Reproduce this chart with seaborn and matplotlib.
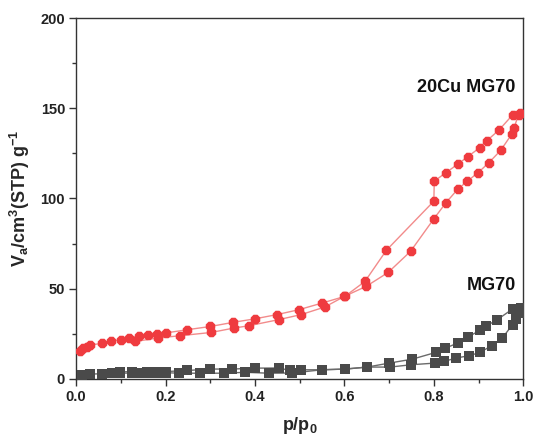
import numpy as np
import matplotlib
matplotlib.use("Agg")
import matplotlib.pyplot as plt
import seaborn as sns
from matplotlib.ticker import MultipleLocator

# 20Cu MG70 - adsorption branch
cu_ads_x = [0.009, 0.016, 0.024, 0.030, 0.058, 0.078, 0.100, 0.132, 0.182, 0.233, 0.302, 0.352,
            0.386, 0.453, 0.503, 0.556, 0.600, 0.649, 0.698, 0.748, 0.800, 0.827, 0.853, 0.875,
            0.899, 0.923, 0.950, 0.974, 0.979, 0.990]
cu_ads_y = [15.2, 17.0, 17.9, 18.5, 19.8, 20.7, 21.7, 20.7, 22.6, 23.9, 25.7, 28.1,
            29.4, 32.8, 35.6, 39.8, 45.7, 51.3, 59.0, 70.7, 88.7, 97.6, 105.0, 109.6,
            114.3, 119.8, 126.8, 135.6, 139.2, 146.5]
# 20Cu MG70 - desorption branch
cu_des_x = [0.993, 0.976, 0.946, 0.918, 0.903, 0.876, 0.853, 0.827, 0.801, 0.800, 0.694, 0.646,
            0.601, 0.550, 0.498, 0.449, 0.401, 0.351, 0.300, 0.248, 0.200, 0.181, 0.160, 0.140, 0.119]
cu_des_y = [147.6, 146.3, 138.0, 131.9, 128.2, 123.2, 118.9, 114.3, 109.6, 98.5, 71.3, 54.0,
            45.7, 42.0, 38.3, 35.6, 33.3, 31.3, 29.0, 27.2, 25.4, 24.8, 24.1, 23.5, 22.6]

# MG70 - adsorption branch
mg_ads_x = [0.013, 0.030, 0.058, 0.080, 0.099, 0.125, 0.143, 0.158, 0.181, 0.200, 0.229, 0.278,
            0.330, 0.378, 0.431, 0.483, 0.550, 0.602, 0.651, 0.702, 0.750, 0.802, 0.823, 0.849,
            0.879, 0.903, 0.929, 0.953, 0.976, 0.983, 0.990]
mg_ads_y = [2.2, 2.6, 2.8, 3.0, 3.1, 3.2, 3.2, 3.3, 3.4, 3.4, 3.1, 3.1,
            3.1, 3.6, 3.1, 3.2, 5.0, 5.4, 6.5, 6.5, 7.8, 8.7, 9.6, 11.5,
            12.8, 14.6, 18.3, 22.6, 30.0, 33.1, 36.5]
# MG70 - desorption branch
mg_des_x = [0.994, 0.976, 0.942, 0.916, 0.903, 0.876, 0.853, 0.826, 0.804, 0.752, 0.700, 0.651,
            0.602, 0.550, 0.502, 0.479, 0.453, 0.401, 0.349, 0.300, 0.248, 0.200, 0.181, 0.158,
            0.125, 0.099]
mg_des_y = [39.3, 38.7, 32.8, 29.1, 26.8, 23.2, 19.8, 17.0, 14.6, 10.9, 8.7, 6.5,
            5.4, 5.0, 5.0, 4.6, 6.0, 5.9, 5.4, 5.4, 4.6, 4.0, 4.0, 4.0,
            4.0, 3.8]

sns.set_style("ticks")
plt.rcParams['font.family'] = ['Liberation Sans', 'DejaVu Sans']
plt.rcParams['mathtext.fontset'] = 'custom'
plt.rcParams['mathtext.rm'] = 'Liberation Sans:bold'
plt.rcParams['mathtext.it'] = 'Liberation Sans:bold'
plt.rcParams['mathtext.bf'] = 'Liberation Sans:bold'

fig = plt.figure(figsize=(5.4, 4.42), dpi=100)
ax = fig.add_axes([0.141, 0.143, 0.828, 0.816])

red = '#ef3b3f'
red_line = '#f28b8b'
grey = '#4a4a4a'
grey_line = '#6a6a6a'

for xs, ys in [(cu_ads_x, cu_ads_y), (cu_des_x, cu_des_y)]:
    sns.lineplot(x=xs, y=ys, sort=False, estimator=None, color=red_line, lw=1.0, ax=ax)
    sns.scatterplot(x=xs, y=ys, marker='8', s=55, color=red, edgecolor=red, linewidth=0, ax=ax, zorder=3)

for xs, ys in [(mg_ads_x, mg_ads_y), (mg_des_x, mg_des_y)]:
    sns.lineplot(x=xs, y=ys, sort=False, estimator=None, color=grey_line, lw=1.0, ax=ax)
    sns.scatterplot(x=xs, y=ys, marker='s', s=45, color=grey, edgecolor=grey, linewidth=0, ax=ax, zorder=3)

ax.set_xlim(0, 1.0)
ax.set_ylim(0, 200)
ax.xaxis.set_major_locator(MultipleLocator(0.2))
ax.xaxis.set_minor_locator(MultipleLocator(0.1))
ax.yaxis.set_major_locator(MultipleLocator(50))
ax.yaxis.set_minor_locator(MultipleLocator(25))
ax.xaxis.set_major_formatter(matplotlib.ticker.FormatStrFormatter('%.1f'))

ax.tick_params(which='major', direction='out', length=5, width=1, color='#333333',
               labelsize=10.5, labelcolor='#222222', pad=3)
ax.tick_params(which='minor', direction='out', length=3, width=1, color='#333333')
for lab in ax.get_xticklabels() + ax.get_yticklabels():
    lab.set_fontweight('bold')

for sp in ax.spines.values():
    sp.set_visible(True)
    sp.set_color('#333333')
    sp.set_linewidth(1.0)

ax.set_xlabel('p/p$_0$', fontsize=13, fontweight='bold', labelpad=8)
ax.set_ylabel('V$_a$/cm$^3$(STP) g$^{-1}$', fontsize=13, fontweight='bold', labelpad=6)

ax.text(0.983, 161.5, '20Cu MG70', fontsize=13, fontweight='bold', ha='right', va='center', color='#111111')
ax.text(0.983, 52, 'MG70', fontsize=13, fontweight='bold', ha='right', va='center', color='#111111')

fig.savefig('out.png', dpi=100)
